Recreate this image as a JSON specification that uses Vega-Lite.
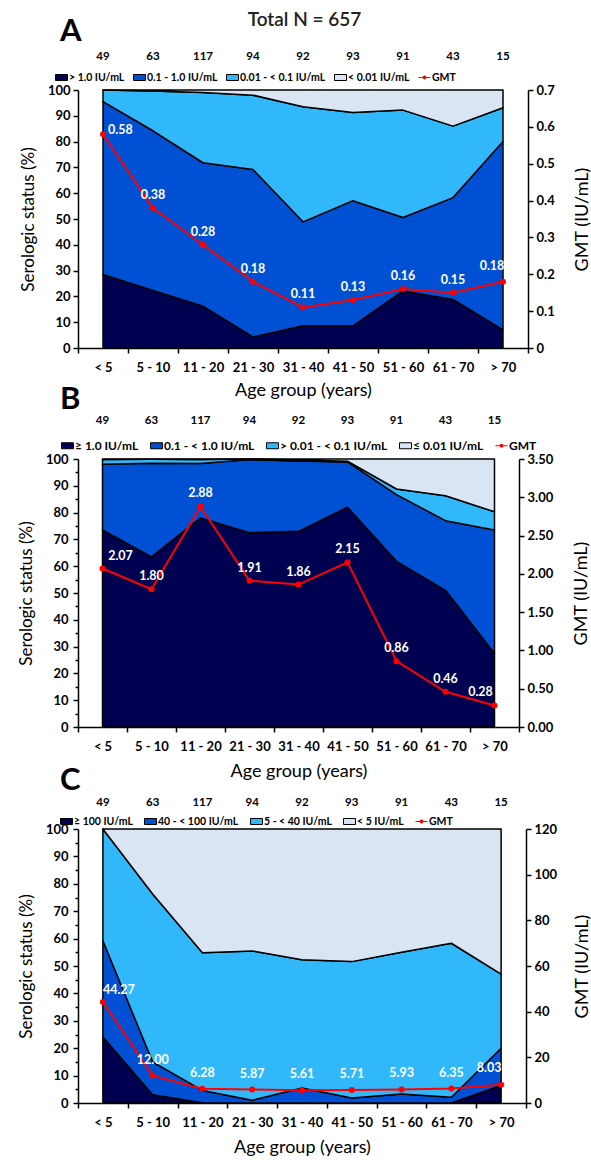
{
"$schema": "https://vega.github.io/schema/vega-lite/v6.json",
"padding": {"left": 17, "top": 11, "right": 0, "bottom": 0},
"background": "white",
"title": {"text": "Total N = 657", "fontSize": 19, "fontWeight": 600, "anchor": "middle", "offset": -14, "color": "#222"},
"datasets": {
"areaA": [
{"age":"< 5","level":"k1","lo":0,"hi":28.5},{"age":"< 5","level":"k2","lo":28.5,"hi":95.5},{"age":"< 5","level":"k3","lo":95.5,"hi":100},{"age":"< 5","level":"k4","lo":100,"hi":100},
{"age":"5 - 10","level":"k1","lo":0,"hi":22.3},{"age":"5 - 10","level":"k2","lo":22.3,"hi":84.2},{"age":"5 - 10","level":"k3","lo":84.2,"hi":99.6},{"age":"5 - 10","level":"k4","lo":99.6,"hi":100},
{"age":"11 - 20","level":"k1","lo":0,"hi":16.2},{"age":"11 - 20","level":"k2","lo":16.2,"hi":71.8},{"age":"11 - 20","level":"k3","lo":71.8,"hi":99.0},{"age":"11 - 20","level":"k4","lo":99.0,"hi":100},
{"age":"21 - 30","level":"k1","lo":0,"hi":4.3},{"age":"21 - 30","level":"k2","lo":4.3,"hi":69.2},{"age":"21 - 30","level":"k3","lo":69.2,"hi":98.0},{"age":"21 - 30","level":"k4","lo":98.0,"hi":100},
{"age":"31 - 40","level":"k1","lo":0,"hi":8.6},{"age":"31 - 40","level":"k2","lo":8.6,"hi":48.9},{"age":"31 - 40","level":"k3","lo":48.9,"hi":93.5},{"age":"31 - 40","level":"k4","lo":93.5,"hi":100},
{"age":"41 - 50","level":"k1","lo":0,"hi":8.6},{"age":"41 - 50","level":"k2","lo":8.6,"hi":57.1},{"age":"41 - 50","level":"k3","lo":57.1,"hi":91.3},{"age":"41 - 50","level":"k4","lo":91.3,"hi":100},
{"age":"51 - 60","level":"k1","lo":0,"hi":22.1},{"age":"51 - 60","level":"k2","lo":22.1,"hi":50.6},{"age":"51 - 60","level":"k3","lo":50.6,"hi":92.2},{"age":"51 - 60","level":"k4","lo":92.2,"hi":100},
{"age":"61 - 70","level":"k1","lo":0,"hi":18.8},{"age":"61 - 70","level":"k2","lo":18.8,"hi":58.3},{"age":"61 - 70","level":"k3","lo":58.3,"hi":86.0},{"age":"61 - 70","level":"k4","lo":86.0,"hi":100},
{"age":"> 70","level":"k1","lo":0,"hi":7.0},{"age":"> 70","level":"k2","lo":7.0,"hi":80.0},{"age":"> 70","level":"k3","lo":80.0,"hi":93.1},{"age":"> 70","level":"k4","lo":93.1,"hi":100}
],
"areaB": [
{"age":"< 5","level":"k1","lo":0,"hi":73.5},{"age":"< 5","level":"k2","lo":73.5,"hi":98.0},{"age":"< 5","level":"k3","lo":98.0,"hi":99.8},{"age":"< 5","level":"k4","lo":99.8,"hi":100},
{"age":"5 - 10","level":"k1","lo":0,"hi":63.5},{"age":"5 - 10","level":"k2","lo":63.5,"hi":98.4},{"age":"5 - 10","level":"k3","lo":98.4,"hi":99.9},{"age":"5 - 10","level":"k4","lo":99.9,"hi":100},
{"age":"11 - 20","level":"k1","lo":0,"hi":78.0},{"age":"11 - 20","level":"k2","lo":78.0,"hi":98.3},{"age":"11 - 20","level":"k3","lo":98.3,"hi":99.8},{"age":"11 - 20","level":"k4","lo":99.8,"hi":100},
{"age":"21 - 30","level":"k1","lo":0,"hi":72.5},{"age":"21 - 30","level":"k2","lo":72.5,"hi":99.8},{"age":"21 - 30","level":"k3","lo":99.8,"hi":100},{"age":"21 - 30","level":"k4","lo":100,"hi":100},
{"age":"31 - 40","level":"k1","lo":0,"hi":73.0},{"age":"31 - 40","level":"k2","lo":73.0,"hi":99.3},{"age":"31 - 40","level":"k3","lo":99.3,"hi":99.6},{"age":"31 - 40","level":"k4","lo":99.6,"hi":100},
{"age":"41 - 50","level":"k1","lo":0,"hi":82.0},{"age":"41 - 50","level":"k2","lo":82.0,"hi":98.9},{"age":"41 - 50","level":"k3","lo":98.9,"hi":99.2},{"age":"41 - 50","level":"k4","lo":99.2,"hi":100},
{"age":"51 - 60","level":"k1","lo":0,"hi":61.8},{"age":"51 - 60","level":"k2","lo":61.8,"hi":86.7},{"age":"51 - 60","level":"k3","lo":86.7,"hi":88.8},{"age":"51 - 60","level":"k4","lo":88.8,"hi":100},
{"age":"61 - 70","level":"k1","lo":0,"hi":51.0},{"age":"61 - 70","level":"k2","lo":51.0,"hi":77.0},{"age":"61 - 70","level":"k3","lo":77.0,"hi":86.3},{"age":"61 - 70","level":"k4","lo":86.3,"hi":100},
{"age":"> 70","level":"k1","lo":0,"hi":27.4},{"age":"> 70","level":"k2","lo":27.4,"hi":73.5},{"age":"> 70","level":"k3","lo":73.5,"hi":80.3},{"age":"> 70","level":"k4","lo":80.3,"hi":100}
],
"areaC": [
{"age":"< 5","level":"k1","lo":0,"hi":24.1},{"age":"< 5","level":"k2","lo":24.1,"hi":59.2},{"age":"< 5","level":"k3","lo":59.2,"hi":100},{"age":"< 5","level":"k4","lo":100,"hi":100},
{"age":"5 - 10","level":"k1","lo":0,"hi":3.0},{"age":"5 - 10","level":"k2","lo":3.0,"hi":15.0},{"age":"5 - 10","level":"k3","lo":15.0,"hi":76.3},{"age":"5 - 10","level":"k4","lo":76.3,"hi":100},
{"age":"11 - 20","level":"k1","lo":0,"hi":0.1},{"age":"11 - 20","level":"k2","lo":0.1,"hi":4.6},{"age":"11 - 20","level":"k3","lo":4.6,"hi":54.8},{"age":"11 - 20","level":"k4","lo":54.8,"hi":100},
{"age":"21 - 30","level":"k1","lo":0,"hi":0},{"age":"21 - 30","level":"k2","lo":0,"hi":1.0},{"age":"21 - 30","level":"k3","lo":1.0,"hi":55.5},{"age":"21 - 30","level":"k4","lo":55.5,"hi":100},
{"age":"31 - 40","level":"k1","lo":0,"hi":0},{"age":"31 - 40","level":"k2","lo":0,"hi":5.5},{"age":"31 - 40","level":"k3","lo":5.5,"hi":52.3},{"age":"31 - 40","level":"k4","lo":52.3,"hi":100},
{"age":"41 - 50","level":"k1","lo":0,"hi":0},{"age":"41 - 50","level":"k2","lo":0,"hi":1.8},{"age":"41 - 50","level":"k3","lo":1.8,"hi":51.6},{"age":"41 - 50","level":"k4","lo":51.6,"hi":100},
{"age":"51 - 60","level":"k1","lo":0,"hi":0},{"age":"51 - 60","level":"k2","lo":0,"hi":3.3},{"age":"51 - 60","level":"k3","lo":3.3,"hi":55.0},{"age":"51 - 60","level":"k4","lo":55.0,"hi":100},
{"age":"61 - 70","level":"k1","lo":0,"hi":0},{"age":"61 - 70","level":"k2","lo":0,"hi":2.1},{"age":"61 - 70","level":"k3","lo":2.1,"hi":58.3},{"age":"61 - 70","level":"k4","lo":58.3,"hi":100},
{"age":"> 70","level":"k1","lo":0,"hi":6.4},{"age":"> 70","level":"k2","lo":6.4,"hi":20.0},{"age":"> 70","level":"k3","lo":20.0,"hi":47.0},{"age":"> 70","level":"k4","lo":47.0,"hi":100}
],
"gmtA": [{"age":"< 5","gmt":0.58},{"age":"5 - 10","gmt":0.38},{"age":"11 - 20","gmt":0.28},{"age":"21 - 30","gmt":0.18},{"age":"31 - 40","gmt":0.11},{"age":"41 - 50","gmt":0.13},{"age":"51 - 60","gmt":0.16},{"age":"61 - 70","gmt":0.15},{"age":"> 70","gmt":0.18}],
"gmtB": [{"age":"< 5","gmt":2.07},{"age":"5 - 10","gmt":1.80},{"age":"11 - 20","gmt":2.88},{"age":"21 - 30","gmt":1.91},{"age":"31 - 40","gmt":1.86},{"age":"41 - 50","gmt":2.15},{"age":"51 - 60","gmt":0.86},{"age":"61 - 70","gmt":0.46},{"age":"> 70","gmt":0.28}],
"gmtC": [{"age":"< 5","gmt":44.27},{"age":"5 - 10","gmt":12.00},{"age":"11 - 20","gmt":6.28},{"age":"21 - 30","gmt":5.87},{"age":"31 - 40","gmt":5.61},{"age":"41 - 50","gmt":5.71},{"age":"51 - 60","gmt":5.93},{"age":"61 - 70","gmt":6.35},{"age":"> 70","gmt":8.03}]
},
"spacing": -15,
"resolve": {"scale": {"fill": "independent", "x": "independent", "y": "independent"}, "legend": {"fill": "independent"}},
"vconcat": [
{
"width": 450, "height": 258,
"title": {"text": "A", "fontSize": 31, "fontWeight": "bold", "anchor": "start", "frame": "group", "dx": -18, "dy": 6, "offset": 8},
"layer": [
{
"data": {"name": "areaA"},
"mark": {"type": "area", "stroke": "black", "strokeWidth": 1.5, "strokeJoin": "round", "opacity": 1},
"encoding": {
"x": {"field": "age", "type": "ordinal", "bandPosition": 0.5, "scale": {"type": "band", "domain": ["< 5","5 - 10","11 - 20","21 - 30","31 - 40","41 - 50","51 - 60","61 - 70","> 70"], "paddingInner": 0, "paddingOuter": 0},
"axis": {"orient": "bottom", "tickBand": "extent", "tickSize": 5, "labelFontSize": 13, "labelFontWeight": "bold", "labelPadding": 8, "labelAngle": 0, "title": "Age group (years)", "titleFontSize": 18, "titleFontWeight": "normal", "titlePadding": 7}},
"y": {"field": "hi", "type": "quantitative", "scale": {"domain": [0, 100], "nice": false},
"axis": {"values": [0,10,20,30,40,50,60,70,80,90,100], "tickSize": 5, "labelFontSize": 13, "labelFontWeight": "bold", "labelPadding": 3, "title": "Serologic status (%)", "titleFontSize": 17, "titleFontWeight": "normal", "titlePadding": 10}},
"y2": {"field": "lo"},
"fill": {"field": "level", "type": "nominal", "scale": {"domain": ["k1","k2","k3","k4","GMT"], "range": ["#000050","#0050D4","#30B8FA","#DAE5F4","#FF0000"]},
"legend": {"orient": "none", "legendX": -23, "legendY": -19, "direction": "horizontal", "columns": 5, "title": null, "padding": 0, "columnPadding": 6, "labelOffset": 1, "labelFontSize": 10.5, "labelFontWeight": "bold", "labelColor": "black", "symbolSize": 144, "symbolStrokeColor": "black", "symbolStrokeWidth": 1, "symbolOpacity": 1,
"labelExpr": "{'k1':'> 1.0 IU/mL','k2':'0.1 - 1.0 IU/mL','k3':'0.01 - < 0.1 IU/mL','k4':'< 0.01 IU/mL','GMT':'GMT'}[datum.value]",
"encode": {"symbols": {"update": {"shape": {"signal": "datum.value === 'GMT' ? 'M-1,-0.09H1V0.09H-1Z M0.32,0A0.32,0.32,0,1,1,-0.32,0A0.32,0.32,0,1,1,0.32,0Z' : 'M-1,-0.5H1V0.5H-1Z'"}, "stroke": {"signal": "datum.value === 'GMT' ? 'transparent' : 'black'"}}}}}}
}
},
{
"data": {"name": "gmtA"},
"encoding": {
"x": {"field": "age", "type": "ordinal", "bandPosition": 0.5, "scale": {"type": "band", "domain": ["< 5","5 - 10","11 - 20","21 - 30","31 - 40","41 - 50","51 - 60","61 - 70","> 70"], "paddingInner": 0, "paddingOuter": 0},
"axis": {"orient": "top", "domain": false, "ticks": false, "labelPadding": 29, "labelFontSize": 11.5, "labelFontWeight": "bold", "labelAngle": 0, "title": null,
"labelExpr": "{'< 5':'49','5 - 10':'63','11 - 20':'117','21 - 30':'94','31 - 40':'92','41 - 50':'93','51 - 60':'91','61 - 70':'43','> 70':'15'}[datum.value]"}},
"y": {"field": "gmt", "type": "quantitative", "scale": {"domain": [0, 0.7], "nice": false},
"axis": {"orient": "right", "values": [0,0.1,0.2,0.3,0.4,0.5,0.6,0.7], "format": ".1~f", "tickSize": 5, "labelFontSize": 13, "labelFontWeight": "bold", "labelPadding": 3, "title": "GMT (IU/mL)", "titleAngle": 270, "titleBaseline": "top", "titleFontSize": 18, "titleFontWeight": "normal", "titlePadding": 19}}
},
"layer": [
{"mark": {"type": "line", "color": "#FF0000", "strokeWidth": 2}},
{"mark": {"type": "circle", "color": "#FF0000", "size": 36, "opacity": 1}},
{"transform": [{"filter": "datum.age === '< 5'"}], "mark": {"type": "text", "color": "white", "fontSize": 12.5, "fontWeight": "bold", "align": "left", "dx": 5, "dy": -4}, "encoding": {"text": {"field": "gmt", "format": ".2f"}}},
{"transform": [{"filter": "datum.age !== '< 5' && datum.age !== '> 70'"}], "mark": {"type": "text", "color": "white", "fontSize": 12.5, "fontWeight": "bold", "dy": -13}, "encoding": {"text": {"field": "gmt", "format": ".2f"}}},
{"transform": [{"filter": "datum.age === '> 70'"}], "mark": {"type": "text", "color": "white", "fontSize": 12.5, "fontWeight": "bold", "dx": -11, "dy": -16}, "encoding": {"text": {"field": "gmt", "format": ".2f"}}}
]
}
],
"resolve": {"scale": {"y": "independent"}, "axis": {"x": "independent"}}
},
{
"width": 441, "height": 268,
"title": {"text": "B", "fontSize": 31, "fontWeight": "bold", "anchor": "start", "frame": "group", "dx": -18, "offset": -2},
"layer": [
{
"data": {"name": "areaB"},
"mark": {"type": "area", "stroke": "black", "strokeWidth": 1.5, "strokeJoin": "round", "opacity": 1},
"encoding": {
"x": {"field": "age", "type": "ordinal", "bandPosition": 0.5, "scale": {"type": "band", "domain": ["< 5","5 - 10","11 - 20","21 - 30","31 - 40","41 - 50","51 - 60","61 - 70","> 70"], "paddingInner": 0, "paddingOuter": 0},
"axis": {"orient": "bottom", "tickBand": "extent", "tickSize": 5, "labelFontSize": 13, "labelFontWeight": "bold", "labelPadding": 8, "labelAngle": 0, "title": "Age group (years)", "titleFontSize": 18, "titleFontWeight": "normal", "titlePadding": 9}},
"y": {"field": "hi", "type": "quantitative", "scale": {"domain": [0, 100], "nice": false},
"axis": {"values": [0,5,10,15,20,25,30,35,40,45,50,55,60,65,70,75,80,85,90,95,100], "tickSize": {"condition": {"test": "datum.value % 10 === 0", "value": 5}, "value": 3}, "labelExpr": "datum.value % 10 === 0 ? datum.label : ''", "labelFontSize": 13, "labelFontWeight": "bold", "labelPadding": 5, "title": "Serologic status (%)", "titleFontSize": 17, "titleFontWeight": "normal", "titlePadding": 10}},
"y2": {"field": "lo"},
"fill": {"field": "level", "type": "nominal", "scale": {"domain": ["k1","k2","k3","k4","GMT"], "range": ["#000050","#0050D4","#30B8FA","#DAE5F4","#FF0000"]},
"legend": {"orient": "none", "legendX": -17, "legendY": -20, "direction": "horizontal", "columns": 5, "title": null, "padding": 0, "columnPadding": 9, "labelOffset": 1, "labelFontSize": 12, "labelFontWeight": "bold", "labelColor": "black", "symbolSize": 144, "symbolStrokeColor": "black", "symbolStrokeWidth": 1, "symbolOpacity": 1,
"labelExpr": "{'k1':'≥ 1.0 IU/mL','k2':'0.1 - < 1.0 IU/mL','k3':'> 0.01 - < 0.1 IU/mL','k4':'≤ 0.01 IU/mL','GMT':'GMT'}[datum.value]",
"encode": {"symbols": {"update": {"shape": {"signal": "datum.value === 'GMT' ? 'M-1,-0.09H1V0.09H-1Z M0.32,0A0.32,0.32,0,1,1,-0.32,0A0.32,0.32,0,1,1,0.32,0Z' : 'M-1,-0.5H1V0.5H-1Z'"}, "stroke": {"signal": "datum.value === 'GMT' ? 'transparent' : 'black'"}}}}}}
}
},
{
"data": {"name": "gmtB"},
"encoding": {
"x": {"field": "age", "type": "ordinal", "bandPosition": 0.5, "scale": {"type": "band", "domain": ["< 5","5 - 10","11 - 20","21 - 30","31 - 40","41 - 50","51 - 60","61 - 70","> 70"], "paddingInner": 0, "paddingOuter": 0},
"axis": {"orient": "top", "domain": false, "ticks": false, "labelPadding": 34, "labelFontSize": 11.5, "labelFontWeight": "bold", "labelAngle": 0, "title": null,
"labelExpr": "{'< 5':'49','5 - 10':'63','11 - 20':'117','21 - 30':'94','31 - 40':'92','41 - 50':'93','51 - 60':'91','61 - 70':'43','> 70':'15'}[datum.value]"}},
"y": {"field": "gmt", "type": "quantitative", "scale": {"domain": [0, 3.5], "nice": false},
"axis": {"orient": "right", "values": [0,0.5,1,1.5,2,2.5,3,3.5], "format": ".2f", "tickSize": 5, "labelFontSize": 13, "labelFontWeight": "bold", "labelPadding": 3, "title": "GMT (IU/mL)", "titleAngle": 270, "titleBaseline": "top", "titleFontSize": 18, "titleFontWeight": "normal", "titlePadding": 20}}
},
"layer": [
{"mark": {"type": "line", "color": "#FF0000", "strokeWidth": 2}},
{"mark": {"type": "circle", "color": "#FF0000", "size": 36, "opacity": 1}},
{"transform": [{"filter": "datum.age === '< 5'"}], "mark": {"type": "text", "color": "white", "fontSize": 12.5, "fontWeight": "bold", "dx": 18, "dy": -12}, "encoding": {"text": {"field": "gmt", "format": ".2f"}}},
{"transform": [{"filter": "datum.age !== '< 5' && datum.age !== '> 70'"}], "mark": {"type": "text", "color": "white", "fontSize": 12.5, "fontWeight": "bold", "dy": -13}, "encoding": {"text": {"field": "gmt", "format": ".2f"}}},
{"transform": [{"filter": "datum.age === '> 70'"}], "mark": {"type": "text", "color": "white", "fontSize": 12.5, "fontWeight": "bold", "dx": -14, "dy": -14}, "encoding": {"text": {"field": "gmt", "format": ".2f"}}}
]
}
],
"resolve": {"scale": {"y": "independent"}, "axis": {"x": "independent"}}
},
{
"width": 448, "height": 274,
"title": {"text": "C", "fontSize": 31, "fontWeight": "bold", "anchor": "start", "frame": "group", "dx": -18, "offset": -1},
"layer": [
{
"data": {"name": "areaC"},
"mark": {"type": "area", "stroke": "black", "strokeWidth": 1.5, "strokeJoin": "round", "opacity": 1},
"encoding": {
"x": {"field": "age", "type": "ordinal", "bandPosition": 0.5, "scale": {"type": "band", "domain": ["< 5","5 - 10","11 - 20","21 - 30","31 - 40","41 - 50","51 - 60","61 - 70","> 70"], "paddingInner": 0, "paddingOuter": 0},
"axis": {"orient": "bottom", "tickBand": "extent", "tickSize": 5, "labelFontSize": 13, "labelFontWeight": "bold", "labelPadding": 8, "labelAngle": 0, "title": "Age group (years)", "titleFontSize": 18, "titleFontWeight": "normal", "titlePadding": 9}},
"y": {"field": "hi", "type": "quantitative", "scale": {"domain": [0, 100], "nice": false},
"axis": {"values": [0,5,10,15,20,25,30,35,40,45,50,55,60,65,70,75,80,85,90,95,100], "tickSize": {"condition": {"test": "datum.value % 10 === 0", "value": 5}, "value": 3}, "labelExpr": "datum.value % 10 === 0 ? datum.label : ''", "labelFontSize": 13, "labelFontWeight": "bold", "labelPadding": 5, "title": "Serologic status (%)", "titleFontSize": 17, "titleFontWeight": "normal", "titlePadding": 10}},
"y2": {"field": "lo"},
"fill": {"field": "level", "type": "nominal", "scale": {"domain": ["k1","k2","k3","k4","GMT"], "range": ["#000050","#0050D4","#30B8FA","#DAE5F4","#FF0000"]},
"legend": {"orient": "none", "legendX": -18, "legendY": -14, "direction": "horizontal", "columns": 5, "title": null, "padding": 0, "columnPadding": 9, "labelOffset": 1, "labelFontSize": 10.5, "labelFontWeight": "bold", "labelColor": "black", "symbolSize": 144, "symbolStrokeColor": "black", "symbolStrokeWidth": 1, "symbolOpacity": 1,
"labelExpr": "{'k1':'≥ 100 IU/mL','k2':'40 - < 100 IU/mL','k3':'5 - < 40 IU/mL','k4':'< 5 IU/mL','GMT':'GMT'}[datum.value]",
"encode": {"symbols": {"update": {"shape": {"signal": "datum.value === 'GMT' ? 'M-1,-0.09H1V0.09H-1Z M0.32,0A0.32,0.32,0,1,1,-0.32,0A0.32,0.32,0,1,1,0.32,0Z' : 'M-1,-0.5H1V0.5H-1Z'"}, "stroke": {"signal": "datum.value === 'GMT' ? 'transparent' : 'black'"}}}}}}
}
},
{
"data": {"name": "gmtC"},
"encoding": {
"x": {"field": "age", "type": "ordinal", "bandPosition": 0.5, "scale": {"type": "band", "domain": ["< 5","5 - 10","11 - 20","21 - 30","31 - 40","41 - 50","51 - 60","61 - 70","> 70"], "paddingInner": 0, "paddingOuter": 0},
"axis": {"orient": "top", "domain": false, "ticks": false, "labelPadding": 22, "labelFontSize": 11.5, "labelFontWeight": "bold", "labelAngle": 0, "title": null,
"labelExpr": "{'< 5':'49','5 - 10':'63','11 - 20':'117','21 - 30':'94','31 - 40':'92','41 - 50':'93','51 - 60':'91','61 - 70':'43','> 70':'15'}[datum.value]"}},
"y": {"field": "gmt", "type": "quantitative", "scale": {"domain": [0, 120], "nice": false},
"axis": {"orient": "right", "values": [0,20,40,60,80,100,120], "tickSize": 5, "labelFontSize": 13, "labelFontWeight": "bold", "labelPadding": 3, "title": "GMT (IU/mL)", "titleAngle": 270, "titleBaseline": "top", "titleFontSize": 18, "titleFontWeight": "normal", "titlePadding": 17}}
},
"layer": [
{"mark": {"type": "line", "color": "#FF0000", "strokeWidth": 2}},
{"mark": {"type": "circle", "color": "#FF0000", "size": 36, "opacity": 1}},
{"transform": [{"filter": "datum.age === '< 5'"}], "mark": {"type": "text", "color": "white", "fontSize": 12.5, "fontWeight": "bold", "dx": 16, "dy": -12}, "encoding": {"text": {"field": "gmt", "format": ".2f"}}},
{"transform": [{"filter": "datum.age !== '< 5' && datum.age !== '> 70'"}], "mark": {"type": "text", "color": "white", "fontSize": 12.5, "fontWeight": "bold", "dy": -16}, "encoding": {"text": {"field": "gmt", "format": ".2f"}}},
{"transform": [{"filter": "datum.age === '> 70'"}], "mark": {"type": "text", "color": "white", "fontSize": 12.5, "fontWeight": "bold", "dx": -12, "dy": -17}, "encoding": {"text": {"field": "gmt", "format": ".2f"}}}
]
}
],
"resolve": {"scale": {"y": "independent"}, "axis": {"x": "independent"}}
}
],
"config": {
"font": "Lato",
"view": {"stroke": null},
"axis": {"domainColor": "black", "domainWidth": 1.5, "tickColor": "black", "tickWidth": 1.5, "labelColor": "black", "titleColor": "black", "labelFont": "Lato", "titleFont": "Lato", "grid": false},
"title": {"color": "black", "font": "Lato"},
"legend": {"labelFont": "Lato"},
"text": {"font": "Lato"}
}
}
